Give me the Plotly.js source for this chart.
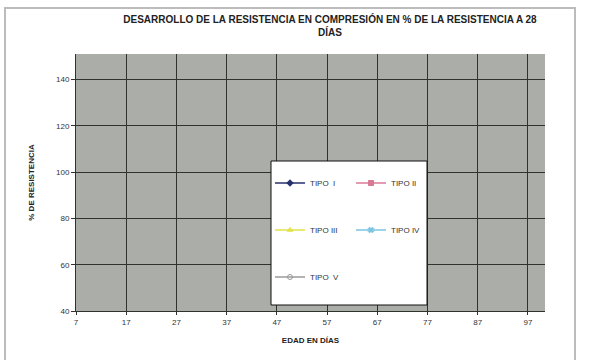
<!DOCTYPE html>
<html>
<head>
<meta charset="utf-8">
<script src="https://cdn.plot.ly/plotly-3.0.1.min.js"></script>
<style>html,body{margin:0;padding:0;background:#fff;}#chart{width:589px;height:360px;}</style>
</head>
<body>
<div id="chart"></div>
<script>
// Data (the reference shows no plotted values: only the legend entries)
const edadDias = [7, 17, 27, 37, 47, 57, 67, 77, 87, 97];
const tipoI   = [null, null, null, null, null, null, null, null, null, null];
const tipoII  = [null, null, null, null, null, null, null, null, null, null];
const tipoIII = [null, null, null, null, null, null, null, null, null, null];
const tipoIV  = [null, null, null, null, null, null, null, null, null, null];
const tipoV   = [null, null, null, null, null, null, null, null, null, null];
const nombres = ["TIPO  I", "TIPO II", "TIPO III", "TIPO IV", "TIPO  V"];
const yTicks = [40, 60, 80, 100, 120, 140];

const series = [tipoI, tipoII, tipoIII, tipoIV, tipoV];
const colores = ["#27306e", "#d97a95", "#e2e24a", "#7cc4e0", "#9a9a9a"];
const simbolos = ["diamond", "square", "triangle-up", "x", "circle-open"];
const leyendas = ["legend", "legend", "legend2", "legend2", "legend3"];

const traces = series.map((s, i) => ({
  type: "scatter",
  mode: "lines+markers",
  x: edadDias,
  y: s,
  name: nombres[i],
  legend: leyendas[i],
  line: {color: colores[i], width: 1.5},
  marker: {symbol: simbolos[i], size: 5, color: colores[i], line: {color: colores[i], width: 1}}
}));

const L = 76, R = 545, T = 54, B = 311;
const W = R - L, H = B - T;
const px = v => (v - L) / W;
const py = v => (B - v) / H;

const legendBase = {
  orientation: "h",
  bgcolor: "rgba(0,0,0,0)",
  borderwidth: 0,
  font: {family: "Liberation Sans, Arial, sans-serif", size: 8, color: "#333"},
  entrywidth: 36,
  entrywidthmode: "pixels",
  itemwidth: 30,
  xanchor: "left",
  yanchor: "middle",
  x: px(270)
};

const layout = {
  width: 589,
  height: 360,
  margin: {l: L, r: 589 - R, t: T, b: 360 - B},
  paper_bgcolor: "#ffffff",
  plot_bgcolor: "#abaea8",
  title: {
    text: "<b>DESARROLLO DE LA RESISTENCIA EN COMPRESIÓN EN % DE LA RESISTENCIA A 28<br>DÍAS</b>",
    font: {family: "Liberation Sans, Arial, sans-serif", size: 10, color: "#222"},
    x: 330 / 589, xanchor: "center", xref: "container",
    y: 1 - 23 / 360, yanchor: "top", yref: "container"
  },
  xaxis: {
    range: [7, 100.4],
    tickmode: "array",
    tickvals: edadDias,
    ticktext: edadDias.map(String),
    showgrid: true,
    gridcolor: "#2e332e",
    gridwidth: 1,
    showline: true,
    linecolor: "#2e332e",
    linewidth: 1,
    ticks: "outside",
    ticklen: 3,
    tickcolor: "#2e332e",
    zeroline: false,
    tickfont: {family: "Liberation Sans, Arial, sans-serif", size: 8, color: "#333"},
    title: {
      text: "<b>EDAD EN DÍAS</b>",
      font: {family: "Liberation Sans, Arial, sans-serif", size: 8, color: "#222"},
      standoff: 11
    }
  },
  yaxis: {
    range: [40, 151],
    tickmode: "array",
    tickvals: yTicks,
    ticktext: yTicks.map(String),
    showgrid: true,
    gridcolor: "#2e332e",
    gridwidth: 1,
    showline: true,
    linecolor: "#2e332e",
    linewidth: 1,
    ticks: "outside",
    ticklen: 4,
    tickcolor: "#2e332e",
    zeroline: false,
    tickfont: {family: "Liberation Sans, Arial, sans-serif", size: 8, color: "#333"},
    title: {
      text: "<b>% DE RESISTENCIA</b>",
      font: {family: "Liberation Sans, Arial, sans-serif", size: 8, color: "#222"},
      standoff: 20
    }
  },
  legend:  Object.assign({}, legendBase, {y: py(183)}),
  legend2: Object.assign({}, legendBase, {y: py(230)}),
  legend3: Object.assign({}, legendBase, {y: py(277)}),
  shapes: [
    {type: "rect", xref: "paper", yref: "paper", layer: "above",
     x0: px(5), x1: px(575), y0: py(366), y1: py(8),
     line: {color: "#bcbcbc", width: 2}, fillcolor: "rgba(0,0,0,0)"},
    {type: "rect", xref: "paper", yref: "paper", layer: "above",
     x0: px(271), x1: px(427), y0: py(305), y1: py(161),
     line: {color: "#111", width: 1}, fillcolor: "#ffffff"}
  ],
  showlegend: true
};

Plotly.newPlot("chart", traces, layout, {displayModeBar: false, staticPlot: true});
</script>
</body>
</html>
